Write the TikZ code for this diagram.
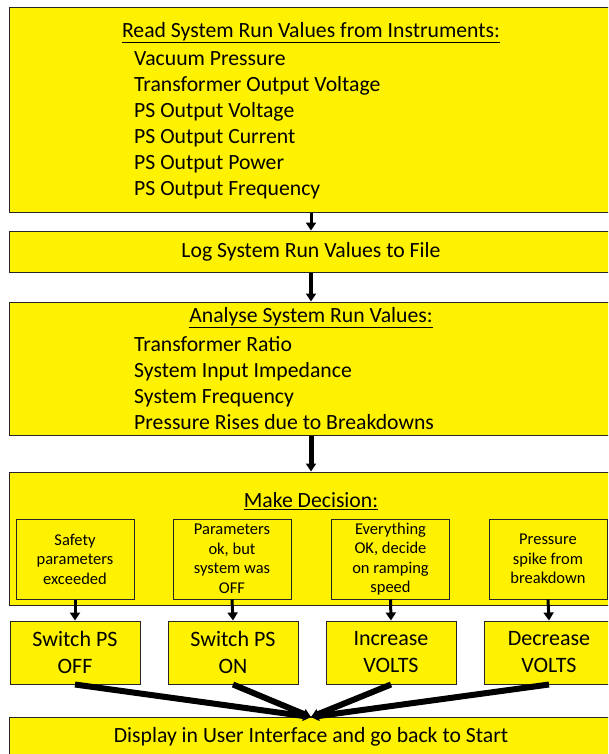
\documentclass[tikz,border=0pt]{standalone}
\usepackage{fontspec}
\setmainfont{Carlito}
\usetikzlibrary{arrows.meta}

\tikzset{
  stage/.style={draw=black!85, fill=yellow, line width=1pt, minimum width=604pt, inner sep=0pt},
  choice/.style={draw=black!85, fill=yellow, line width=1pt, minimum width=118pt, minimum height=80pt,
    align=center, inner sep=1pt, font=\fontsize{16.5}{19.5}\selectfont},
  action/.style={draw=black!85, fill=yellow, line width=1pt, minimum width=130pt, minimum height=63pt,
    align=center, inner sep=1pt, font=\fontsize{22}{27}\selectfont},
  bigtext/.style={inner sep=0pt, font=\fontsize{21.7}{26}\selectfont},
  flow/.style={-{Triangle[width=10pt,length=8pt]}, line width=#1},
  flow/.default=3pt
}

\begin{document}
\begin{tikzpicture}[x=1pt,y=-1pt]
\path[use as bounding box, clip] (0,0) rectangle (608,754);
\fill[white] (0,0) rectangle (608,754);

\node[stage, minimum height=205pt] (read) at (311,110) {};
\node[bigtext] (readtitle) at (311,33) {\underline{Read System Run Values from Instruments:}};
\node[bigtext, anchor=west, align=left] (readlist) at (134,125) {Vacuum Pressure\\
Transformer Output Voltage\\
PS Output Voltage\\
PS Output Current\\
PS Output Power\\
PS Output Frequency};

\node[stage, minimum height=41pt, bigtext] (log) at (311,251.5) {Log System Run Values to File};

\node[stage, minimum height=133pt] (analyse) at (311,368.5) {};
\node[bigtext] (analysetitle) at (311,318) {\underline{Analyse System Run Values:}};
\node[bigtext, anchor=west, align=left] (analyselist) at (134,383) {Transformer Ratio\\
System Input Impedance\\
System Frequency\\
Pressure Rises due to Breakdowns};

\node[stage, minimum height=133pt] (decide) at (311,538.5) {};
\node[bigtext] (decidetitle) at (311,501) {\underline{Make Decision:}};

\node[choice] (safety) at (75,559) {Safety\\parameters\\exceeded};
\node[choice] (wasoff) at (232,559) {Parameters\\ok, but\\system was\\OFF};
\node[choice] (allok) at (390.5,559) {Everything\\OK, decide\\on ramping\\speed};
\node[choice] (spike) at (548,559) {Pressure\\spike from\\breakdown};

\node[action] (psoff) at (75,652.5) {Switch PS\\OFF};
\node[action] (pson) at (233,652.5) {Switch PS\\ON};
\node[action] (voltsup) at (391,652.5) {Increase\\VOLTS};
\node[action] (voltsdown) at (549,652.5) {Decrease\\VOLTS};

\node[stage, minimum height=40pt, bigtext] (display) at (311,737) {Display in User Interface and go back to Start};
\coordinate (merge) at (311,717);

\draw[flow] (read) -- (log);
\draw[flow=4pt] (log) -- (analyse);
\draw[flow=5pt] (analyse) -- (decide);

\draw[flow] (safety.south) -- (psoff.north);
\draw[flow] (wasoff.south) -- (pson.north);
\draw[flow] (allok.south) -- (voltsup.north);
\draw[flow] (spike.south) -- (voltsdown.north);

\draw[flow=6pt] (psoff.south) -- (merge);
\draw[flow=6pt] (pson.south) -- (merge);
\draw[flow=6pt] (voltsup.south) -- (merge);
\draw[flow=6pt] (voltsdown.south) -- (merge);

\end{tikzpicture}
\end{document}
